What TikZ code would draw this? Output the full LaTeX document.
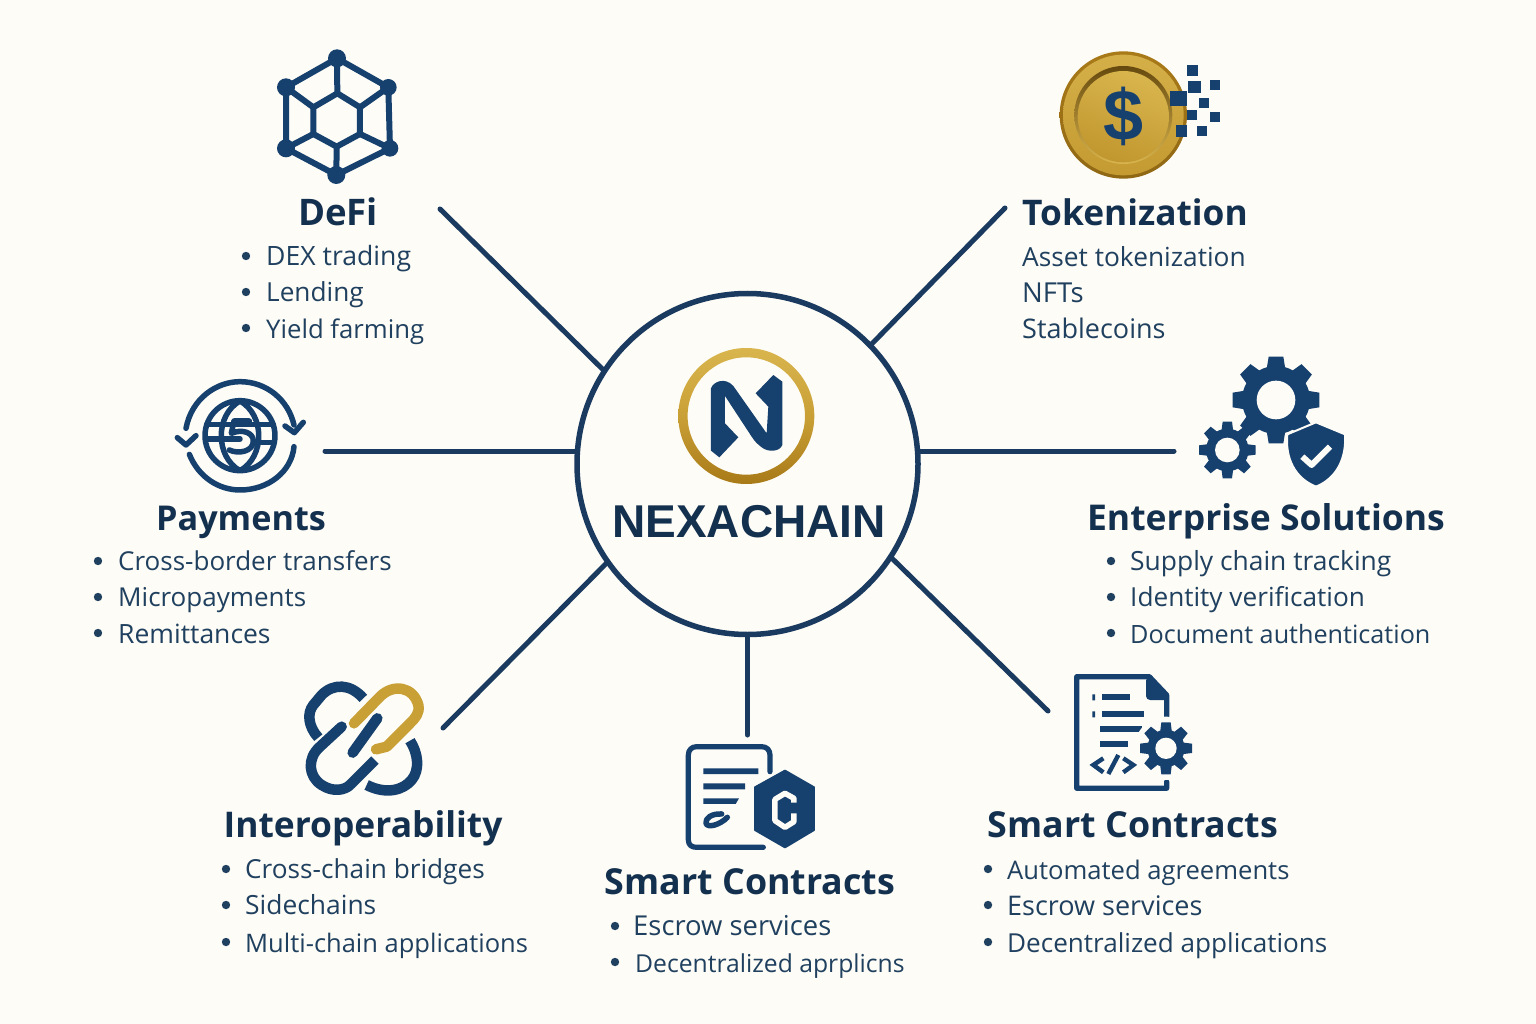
\documentclass[tikz,border=0pt]{standalone}
\usepackage{fontspec}
\setmainfont{Open Sans}
\newfontfamily\hubfont{Liberation Sans}
\usetikzlibrary{calc}
\definecolor{bg}{HTML}{FEFCF6}
\definecolor{navy}{HTML}{16406E}
\definecolor{linecol}{HTML}{1A3A60}
\definecolor{titlecol}{HTML}{14304F}
\definecolor{listcol}{HTML}{20405F}
\definecolor{gold}{HTML}{C9A036}
\definecolor{golddark}{HTML}{A97A18}
\definecolor{goldlight}{HTML}{D9B54E}
\tikzset{
  spoke/.style={line width=5pt,draw=linecol,line cap=round},
  titletext/.style={font=\fontsize{#1}{40}\selectfont\bfseries,text=titlecol,anchor=base,inner sep=0pt},
  listtext/.style={font=\fontsize{#1}{32}\selectfont,text=listcol,anchor=base west,inner sep=0pt},
  ic/.style={draw=navy,line cap=round,line join=round,fill=none},
}
\newcommand{\bul}[2]{\fill[listcol] (#1,#2) circle (4.2);}
\newcommand{\gearshape}[7]{% cx cy rOut rRoot hole nteeth halfwidth
  \fill[navy] (#1,#2) circle (#4);
  \pgfmathsetmacro{\stp}{360/#6}
  \foreach \k in {1,...,#6}{
    \pgfmathsetmacro{\aa}{90+\k*\stp}
    \fill[navy,shift={(#1,#2)},rotate=\aa] (#4-6,-#7*1.25) -- (#3,-#7) -- (#3,#7) -- (#4-6,#7*1.25) -- cycle;
  }
  \fill[bg] (#1,#2) circle (#5);
}
\begin{document}
\begin{tikzpicture}[x=1pt,y=-1pt]
\useasboundingbox (0,0) rectangle (1536,1024);
\fill[bg] (0,0) rectangle (1536,1024);

% hub
\node[circle,draw=linecol,line width=5.5pt,fill=bg,minimum size=341pt,inner sep=0pt,outer sep=0pt] (hub) at (747.5,464) {};
\coordinate (endDefi) at (440,209);
\coordinate (endTok) at (1005,208);
\coordinate (endPay) at (325,451);
\coordinate (endEnt) at (1174,451);
\coordinate (endInt) at (443,728);
\coordinate (endSc) at (747.5,735);
\coordinate (endScr) at (1048,711);
\draw[spoke] (hub.147) -- (endDefi);
\draw[spoke] (hub.44.2) -- (endTok);
\draw[spoke] (endPay -| hub.west) -- (endPay);
\draw[spoke] (endEnt -| hub.east) -- (endEnt);
\draw[spoke] (hub.215.8) -- (endInt);
\draw[spoke] (hub.270) -- (endSc);
\draw[spoke] (hub.327.5) -- (endScr);

% hub logo
\shade[even odd rule,top color=goldlight,bottom color=golddark,middle color=gold]
  (746.3,416) circle (68) (746.3,416) circle (58.7);
\begin{scope}[shift={(600,330)},x=0.3333pt,y=-0.3333pt]
\fill[navy] (333,175) .. controls (340,155) and (375,140) .. (400,168) -- (500,310) -- (505,230) -- (467,190) -- (520,135) -- (547,155) -- (547,345) .. controls (540,365) and (505,368) .. (485,352) .. controls (470,340) and (465,335) .. (455,320) -- (375,198) -- (375,280) -- (415,322) -- (358,382) -- (333,362) -- cycle;
\end{scope}
\node[font=\hubfont\fontsize{46}{50}\selectfont\bfseries,text=titlecol,anchor=base,inner sep=0pt] (hubname) at (749,537.5) {NEXACHAIN};

% DeFi icon
\begin{scope}[shift={(260,30)},x=0.3333pt,y=-0.3333pt]
\draw[ic,line width=6pt] (231,85)--(385,172)--(390,355)--(229,435)--(78,355)--(78,172)--cycle;
\draw[ic,line width=6pt] (232,190)--(300,232)--(300,312)--(230,350)--(160,312)--(160,232)--cycle;
\draw[ic,line width=6pt] (231,85)--(232,190) (385,172)--(300,232) (390,355)--(300,312) (229,435)--(230,350) (78,355)--(160,312) (78,172)--(160,232);
\foreach \p/\r in {{(231,85)}/27,{(385,172)}/25,{(390,355)}/25,{(229,435)}/27,{(78,355)}/27,{(78,172)}/27}
  \fill[navy] \p circle (\r);
\end{scope}

% Coin icon
\begin{scope}[shift={(1040,40)},x=0.3333pt,y=-0.3333pt]
\shade[top color=golddark,bottom color=golddark!85!black] (250,225) circle (191);
\shade[top color=goldlight!90!golddark,bottom color=gold!85!golddark] (250,225) circle (181);
\shade[top color=golddark!60!black,bottom color=goldlight] (250,225) circle (147);
\shade[top color=goldlight,bottom color=gold!75!golddark,shading angle=-20] (250,230) circle (137);
\node[font=\hubfont\fontsize{72}{80}\selectfont\bfseries,text=navy,inner sep=0pt] (dollar) at (250,228) {\$};
\foreach \a/\b/\c/\d in {440/75/475/108,445/122/482/158,510/120/540/150,390/153/440/198,478/175/508/203,440/210/470/240,510/215/540/245,408/255/440/290,472/258/500/287}
  \fill[navy] (\a,\b) rectangle (\c,\d);
\end{scope}

% Payments icon
\begin{scope}[shift={(160,365)},x=0.3333pt,y=-0.3333pt]
\draw[ic,line width=5.5pt] (240,212) circle (105);
\draw[ic,line width=5.5pt] (240,108) .. controls (165,150) and (165,275) .. (240,317) .. controls (315,275) and (315,150) .. (240,108);
\draw[ic,line width=5.5pt] (140,178)--(340,178) (140,222)--(240,222) (300,232)--(340,232);
\draw[ic,line width=5.5pt] (268,168)--(222,168)--(214,205) .. controls (250,190) and (280,205) .. (280,228) .. controls (280,260) and (235,268) .. (208,255);
\draw[ic,line width=5.5pt] (78,190) .. controls (95,100) and (170,50) .. (240,50) .. controls (320,50) and (385,105) .. (402,180);
\draw[ic,line width=5.5pt] (88,268) .. controls (115,335) and (175,375) .. (240,375) .. controls (325,375) and (395,320) .. (402,245);
\draw[ic,line width=5.5pt] (52,218)--(78,240)--(108,212);
\draw[ic,line width=5.5pt] (375,183)--(403,203)--(430,172);
\end{scope}

% Enterprise icon
\begin{scope}[shift={(1180,345)},x=0.3333pt,y=-0.3333pt]
\gearshape{288}{165}{130}{102}{58}{8}{22}
\gearshape{142}{315}{85}{64}{37}{8}{14}
\fill[navy,draw=bg,line width=2pt] (408,232) -- (495,268) .. controls (500,340) and (470,400) .. (408,425) .. controls (345,400) and (315,340) .. (322,268) -- cycle;
\draw[draw=bg,line width=6pt,line join=round] (367,335)--(395,360)--(450,305);
\end{scope}

% Interoperability icon
\begin{scope}[shift={(290,670)},x=0.3333pt,y=-0.3333pt]
\begin{scope}[line width=10.5pt,draw=navy,line join=round]
\draw (220,85) .. controls (180,40) and (130,40) .. (95,75) -- (70,105) .. controls (50,130) and (55,170) .. (85,203);
\draw[line cap=round] (155,170) -- (90,230) .. controls (50,265) and (55,320) .. (95,345) .. controls (130,368) and (165,360) .. (180,345);
\draw (180,345) -- (255,270);
\draw (230,345) .. controls (290,375) and (340,360) .. (365,330) .. controls (390,300) and (385,250) .. (360,212);
\draw[line cap=round] (262,145) -- (188,248);
\end{scope}
\draw[line width=10.5pt,draw=gold,line cap=round,line join=round] (192,160) -- (270,80) .. controls (310,40) and (370,50) .. (385,105) .. controls (390,130) and (375,145) .. (360,160) -- (290,230) -- (258,238);
\end{scope}

% Contract icon centre
\begin{scope}[shift={(670,730)},x=0.3333pt,y=-0.3333pt]
\draw[ic,line width=5.2pt] (300,125) -- (300,75) .. controls (300,60) and (290,50) .. (275,50) -- (80,50) .. controls (65,50) and (55,60) .. (55,75) -- (55,330) .. controls (55,345) and (65,352) .. (80,352) -- (280,352);
\fill[navy] (100,115) rectangle (265,132) (100,160) rectangle (225,178);
\fill[navy] (100,205) -- (207,205) -- (197,222) -- (100,222) -- cycle;
\draw[ic,line width=5.5pt] (155,252) .. controls (125,250) and (105,265) .. (108,280) .. controls (112,295) and (150,285) .. (172,262);
\fill[navy,draw=navy,line join=round,line width=2pt] (345,122) -- (432,172) -- (432,300) -- (345,352) -- (255,300) -- (255,172) -- cycle;
\draw[draw=bg,line width=5.5pt,line join=round] (372,218)--(372,205)--(345,190)--(315,208)--(315,272)--(345,292)--(372,275)--(372,250);
\end{scope}

% Contract icon right
\begin{scope}[shift={(1060,665)},x=0.3333pt,y=-0.3333pt]
\draw[ic,line width=5.2pt] (320,155) -- (320,90) -- (268,35) -- (50,35) -- (50,370) -- (320,370) -- (320,350);
\fill[navy,rounded corners=4pt] (258,35) -- (325,90) -- (325,105) -- (258,105) -- cycle;
\foreach \a/\b/\c in {125/210/95,125/252/148,120/245/193,120/203/238}
  \fill[navy] (\a,\c-9) rectangle (\b,\c+9);
\fill[navy] (97,88) rectangle (105,106) (97,139) rectangle (105,157);
\draw[ic,line width=4.4pt,line cap=butt,line join=miter] (130,280)--(100,300)--(130,322);
\draw[ic,line width=4.4pt,line cap=butt] (175,270)--(145,327);
\draw[ic,line width=4.4pt,line cap=butt,line join=miter] (190,280)--(220,300)--(190,322);
\fill[bg] (318,250) circle (95);
\gearshape{318}{250}{78}{56}{32}{8}{14}
\end{scope}

% Labels
\node[titletext=36.6] (tDefi) at (338,226) {DeFi};
\node[listtext=26.6] (a1) at (266,265.5) {DEX trading}; \bul{246}{256}
\node[listtext=26.2] (a2) at (266,301.5) {Lending}; \bul{246}{292}
\node[listtext=25.7] (a3) at (266,338) {Yield farming}; \bul{246}{328}

\node[titletext=35.3] (tTok) at (1135,226) {Tokenization};
\node[listtext=26.3] (b1) at (1022,266) {Asset tokenization};
\node[listtext=27.5] (b2) at (1022,302) {NFTs};
\node[listtext=27] (b3) at (1022,338) {Stablecoins};

\node[titletext=34.2] (tPay) at (241,530) {Payments};
\node[listtext=26] (c1) at (118,570) {Cross-border transfers}; \bul{98}{561}
\node[listtext=26] (c2) at (118,606) {Micropayments}; \bul{98}{597}
\node[listtext=26.5] (c3) at (118,643) {Remittances}; \bul{98}{633}

\node[titletext=35.5] (tEnt) at (1266,530) {Enterprise Solutions};
\node[listtext=26.4] (d1) at (1130,570.5) {Supply chain tracking}; \bul{1111}{561}
\node[listtext=26.2] (d2) at (1130,606.5) {Identity verification}; \bul{1111}{597}
\node[listtext=25.2] (d3) at (1130,643) {Document authentication}; \bul{1111}{633}

\node[titletext=35.4] (tInt) at (363,837.5) {Interoperability};
\node[listtext=26.2] (e1) at (245,878) {Cross-chain bridges}; \bul{226}{869}
\node[listtext=26.4] (e2) at (245,914) {Sidechains}; \bul{226}{905}
\node[listtext=25.5] (e3) at (245,952) {Multi-chain applications}; \bul{226}{942}

\node[titletext=35.8] (tSc) at (750,894) {Smart Contracts};
\node[listtext=27.4] (f1) at (633,935) {Escrow services}; \bul{615}{926}
\node[listtext=24.7] (f2) at (635,972) {Decentralized aprplicns}; \bul{615}{962}

\node[titletext=35.8] (tScr) at (1133,837.5) {Smart Contracts};
\node[listtext=25.6] (g1) at (1007,879) {Automated agreements}; \bul{988}{869}
\node[listtext=27] (g2) at (1007,915) {Escrow services}; \bul{988}{905}
\node[listtext=26.1] (g3) at (1007,952) {Decentralized applications}; \bul{988}{942}
\end{tikzpicture}
\end{document}
